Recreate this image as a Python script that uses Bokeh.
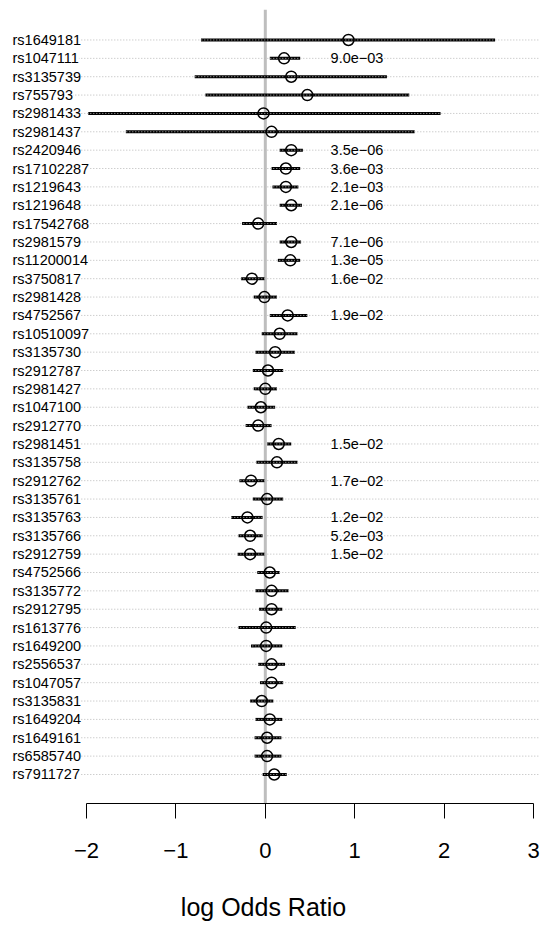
from bokeh.plotting import figure
from bokeh.models import ColumnDataSource, LabelSet, Span, FixedTicker, Range1d
from bokeh.embed import file_html
from bokeh.resources import INLINE
from bokeh.core.properties import value

snps = ["rs1649181", "rs1047111", "rs3135739", "rs755793", "rs2981433", "rs2981437",
        "rs2420946", "rs17102287", "rs1219643", "rs1219648", "rs17542768", "rs2981579",
        "rs11200014", "rs3750817", "rs2981428", "rs4752567", "rs10510097", "rs3135730",
        "rs2912787", "rs2981427", "rs1047100", "rs2912770", "rs2981451", "rs3135758",
        "rs2912762", "rs3135761", "rs3135763", "rs3135766", "rs2912759", "rs4752566",
        "rs3135772", "rs2912795", "rs1613776", "rs1649200", "rs2556537", "rs1047057",
        "rs3135831", "rs1649204", "rs1649161", "rs6585740", "rs7911727"]
log_or = [0.93, 0.21, 0.29, 0.47, -0.02, 0.07,
          0.29, 0.23, 0.23, 0.29, -0.08, 0.29,
          0.28, -0.15, -0.01, 0.25, 0.16, 0.11,
          0.03, 0.00, -0.05, -0.08, 0.15, 0.13,
          -0.16, 0.02, -0.20, -0.17, -0.17, 0.05,
          0.07, 0.07, 0.01, 0.01, 0.07, 0.07,
          -0.04, 0.05, 0.02, 0.02, 0.10]
ci_low = [-0.72, 0.05, -0.79, -0.67, -1.98, -1.56,
          0.16, 0.07, 0.08, 0.16, -0.26, 0.16,
          0.14, -0.27, -0.13, 0.05, -0.04, -0.11,
          -0.14, -0.13, -0.20, -0.22, 0.02, -0.10,
          -0.29, -0.14, -0.38, -0.30, -0.31, -0.09,
          -0.11, -0.07, -0.30, -0.16, -0.08, -0.06,
          -0.17, -0.11, -0.12, -0.12, -0.03]
ci_high = [2.57, 0.39, 1.36, 1.61, 1.96, 1.67,
           0.42, 0.39, 0.37, 0.41, 0.13, 0.40,
           0.39, -0.01, 0.13, 0.47, 0.36, 0.33,
           0.20, 0.13, 0.11, 0.07, 0.29, 0.36,
           -0.01, 0.20, -0.03, -0.03, -0.01, 0.16,
           0.26, 0.19, 0.34, 0.19, 0.22, 0.20,
           0.09, 0.19, 0.18, 0.18, 0.24]
p_values = ["", "9.0e\u221203", "", "", "", "",
            "3.5e\u221206", "3.6e\u221203", "2.1e\u221203", "2.1e\u221206", "", "7.1e\u221206",
            "1.3e\u221205", "1.6e\u221202", "", "1.9e\u221202", "", "",
            "", "", "", "", "1.5e\u221202", "",
            "1.7e\u221202", "", "1.2e\u221202", "5.2e\u221203", "1.5e\u221202", "",
            "", "", "", "", "", "",
            "", "", "", "", ""]
x_ticks = [-2, -1, 0, 1, 2, 3]
x_tick_labels = ["\u22122", "\u22121", "0", "1", "2", "3"]
x_title = "log Odds Ratio"

n = len(snps)
ypos = [n - i for i in range(n)]
src = ColumnDataSource(dict(snp=snps, est=log_or, lo=ci_low, hi=ci_high, pval=p_values, y=ypos))

FONT = value("Liberation Sans")

p = figure(width=540, height=929, output_backend="svg", toolbar_location=None,
           x_range=Range1d(-2.962, 3.078), y_range=Range1d(-0.58, 42.66),
           y_axis_location=None, min_border_left=0, min_border_right=0,
           min_border_top=9, min_border_bottom=126)
p.grid.visible = False
p.outline_line_color = None
p.background_fill_color = "white"
p.border_fill_color = "white"

zero_line = Span(location=0, dimension="height", line_color="#bebebe", line_width=3, level="underlay")
p.add_layout(zero_line)

p.segment(x0="lo", x1="hi", y0="y", y1="y", source=src, line_color="black", line_width=3)
p.segment(x0=-2.83, x1=3.078, y0="y", y1="y", source=src, line_color="#b8b8b8",
          line_width=1, line_dash="1 2")
p.scatter(x="est", y="y", source=src, size=11, marker="circle", fill_color=None,
          line_color="black", line_width=1.5)

p.text(x=0.73, y="y", text="pval", source=src, text_font=FONT, text_font_size="14.5px",
       text_baseline="middle", text_align="left", text_color="black")

labels = LabelSet(x=12, x_units="screen", y="y", text="snp", source=src, text_font=FONT,
                  text_font_size="14.5px", text_baseline="middle", text_align="left",
                  text_color="black", background_fill_color="white")
p.add_layout(labels)

ax = p.xaxis[0]
ax.ticker = FixedTicker(ticks=x_ticks)
ax.major_label_overrides = {t: lab for t, lab in zip(x_ticks, x_tick_labels)}
ax.bounds = (-2, 3)
ax.axis_line_color = "black"
ax.axis_line_width = 1
ax.major_tick_line_color = "black"
ax.major_tick_out = 15
ax.major_tick_in = 0
ax.minor_tick_out = 0
ax.minor_tick_in = 0
ax.major_label_text_font = "Liberation Sans"
ax.major_label_text_font_size = "22px"
ax.major_label_text_color = "black"
ax.major_label_standoff = 24
# two non-breaking spaces nudge the centred title slightly left, as in the original
ax.axis_label = x_title + "\u00a0\u00a0"
ax.axis_label_text_font = "Liberation Sans"
ax.axis_label_text_font_size = "25px"
ax.axis_label_text_font_style = "normal"
ax.axis_label_text_color = "black"
ax.axis_label_standoff = 32

open("out.html", "w").write(file_html(p, INLINE))
